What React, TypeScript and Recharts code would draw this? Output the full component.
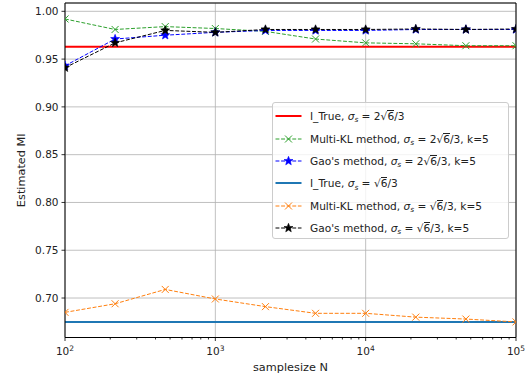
import React from "react";
import {
  CartesianGrid,
  Label,
  Legend,
  Line,
  LineChart,
  ReferenceLine,
  XAxis,
  YAxis,
} from "recharts";

const FONT = "DejaVu Sans";

// sample sizes (log-spaced, 10^2 .. 10^5)
const N_VALUES = [100, 215.4, 464.2, 1000, 2154.4, 4641.6, 10000, 21544, 46416, 100000];

// sigma_s = 2*sqrt(6)/3
const I_TRUE_WIDE = 0.963;
const MULTI_KL_WIDE = [0.992, 0.981, 0.984, 0.982, 0.979, 0.971, 0.967, 0.966, 0.964, 0.964];
const GAO_WIDE = [0.943, 0.971, 0.975, 0.978, 0.980, 0.980, 0.980, 0.981, 0.981, 0.981];

// sigma_s = sqrt(6)/3
const I_TRUE_NARROW = 0.675;
const MULTI_KL_NARROW = [0.685, 0.694, 0.709, 0.699, 0.691, 0.684, 0.684, 0.680, 0.678, 0.675];
const GAO_NARROW = [0.941, 0.967, 0.980, 0.978, 0.981, 0.981, 0.981, 0.9815, 0.981, 0.9815];

const DECADES = [100, 1000, 10000, 100000];
const MINOR_TICKS = [
  200, 300, 400, 500, 600, 700, 800, 900,
  2000, 3000, 4000, 5000, 6000, 7000, 8000, 9000,
  20000, 30000, 40000, 50000, 60000, 70000, 80000, 90000,
];
const Y_TICKS = [0.7, 0.75, 0.8, 0.85, 0.9, 0.95, 1.0];
const Y_MIN = 0.6587;
const Y_MAX = 1.0087;

const rows = N_VALUES.map((n, i) => ({
  n,
  mklWide: MULTI_KL_WIDE[i],
  gaoWide: GAO_WIDE[i],
  mklNarrow: MULTI_KL_NARROW[i],
  gaoNarrow: GAO_NARROW[i],
}));

const DASH = "3.9 1.7";

function XMark(props: any) {
  const { cx, cy, color } = props;
  if (cx == null || cy == null) return null;
  const r = 3.5;
  return (
    <g stroke={color} strokeWidth={1}>
      <line x1={cx - r} y1={cy - r} x2={cx + r} y2={cy + r} />
      <line x1={cx - r} y1={cy + r} x2={cx + r} y2={cy - r} />
    </g>
  );
}

function StarMark(props: any) {
  const { cx, cy, color } = props;
  if (cx == null || cy == null) return null;
  const pts: string[] = [];
  for (let k = 0; k < 10; k++) {
    const r = k % 2 === 0 ? 4.7 : 2.0;
    const a = -Math.PI / 2 + (k * Math.PI) / 5;
    pts.push(`${cx + r * Math.cos(a)},${cy + r * Math.sin(a)}`);
  }
  return <polygon points={pts.join(" ")} fill={color} stroke={color} strokeWidth={0.6} />;
}

function XTick(props: any) {
  const { x, y, payload } = props;
  const major = DECADES.includes(payload.value);
  return (
    <g>
      <line x1={x} x2={x} y1={y} y2={y + (major ? 3.5 : 2)} stroke="#000" strokeWidth={0.8} />
      {major && (
        <text x={x} y={y + 17.5} textAnchor="middle" fontSize={10.5} fontFamily={FONT} fill="#222">
          <tspan>10</tspan>
          <tspan dy={-4.5} fontSize={7.5}>
            {Math.round(Math.log10(payload.value))}
          </tspan>
        </text>
      )}
    </g>
  );
}

function YAxisLabel(props: any) {
  const { viewBox } = props;
  const cy = viewBox.y + viewBox.height / 2;
  return (
    <text
      x={21.5}
      y={cy}
      transform={`rotate(-90 21.5 ${cy})`}
      textAnchor="middle"
      dominantBaseline="central"
      fontSize={11.3}
      fontFamily={FONT}
      fill="#222"
    >
      Estimated MI
    </text>
  );
}

const Sigma = () => (
  <>
    <i>σ</i>
    <span style={{ fontSize: "0.7em", fontStyle: "italic", position: "relative", top: "0.3em" }}>s</span>
  </>
);

const Sqrt6 = () => (
  <>
    √<span style={{ borderTop: "1px solid #222", lineHeight: "1em", display: "inline-block", paddingTop: 0 }}>6</span>
  </>
);

type Entry = { color: string; dashed: boolean; mark: "x" | "star" | null; width: number; label: React.ReactNode };

const LEGEND_ENTRIES: Entry[] = [
  { color: "#ff0000", dashed: false, mark: null, width: 2, label: <>I_True, <Sigma /> = 2<Sqrt6 />/3</> },
  { color: "#2ca02c", dashed: true, mark: "x", width: 1, label: <>Multi-KL method, <Sigma /> = 2<Sqrt6 />/3, k=5</> },
  { color: "#0000ff", dashed: true, mark: "star", width: 1, label: <>Gao's method, <Sigma /> = 2<Sqrt6 />/3, k=5</> },
  { color: "#1f77b4", dashed: false, mark: null, width: 2, label: <>I_True, <Sigma /> = <Sqrt6 />/3</> },
  { color: "#ff7f0e", dashed: true, mark: "x", width: 1, label: <>Multi-KL method, <Sigma /> = <Sqrt6 />/3, k=5</> },
  { color: "#000000", dashed: true, mark: "star", width: 1, label: <>Gao's method, <Sigma /> = <Sqrt6 />/3, k=5</> },
];

function LegendBox() {
  return (
    <div
      style={{
        position: "relative",
        width: 237,
        height: 137,
        boxSizing: "border-box",
        border: "1px solid #cccccc",
        borderRadius: 3,
        background: "rgba(255,255,255,0.8)",
        fontFamily: FONT,
        fontSize: 10.6,
        color: "#222",
      }}
    >
      {LEGEND_ENTRIES.map((e, i) => (
        <div
          key={i}
          style={{
            position: "absolute",
            left: 2,
            top: 2 + i * 22.4,
            height: 22.4,
            display: "flex",
            alignItems: "center",
            whiteSpace: "nowrap",
          }}
        >
          <svg width={27} height={12} style={{ marginRight: 8, flex: "none" }}>
            <line
              x1={0.5}
              x2={26.5}
              y1={6}
              y2={6}
              stroke={e.color}
              strokeWidth={e.width}
              strokeDasharray={e.dashed ? DASH : undefined}
            />
            {e.mark === "x" && <XMark cx={13.5} cy={6} color={e.color} />}
            {e.mark === "star" && <StarMark cx={13.5} cy={6} color={e.color} />}
          </svg>
          <span>{e.label}</span>
        </div>
      ))}
    </div>
  );
}

export default function App() {
  return (
    <div style={{ position: "absolute", left: 0, top: 0, width: 531, height: 381, background: "#fff" }}>
      <LineChart width={531} height={381} data={rows} margin={{ top: 3, right: 15, left: 0, bottom: 0 }}>
        <CartesianGrid vertical={false} stroke="#b0b0b0" strokeWidth={0.8} />
        {DECADES.map((d) => (
          <ReferenceLine key={d} x={d} stroke="#b0b0b0" strokeWidth={0.8} />
        ))}
        <XAxis
          dataKey="n"
          type="number"
          scale="log"
          domain={[100, 100000]}
          allowDataOverflow
          ticks={[...DECADES, ...MINOR_TICKS]}
          interval={0}
          tickLine={false}
          tickSize={0}
          tickMargin={0}
          tick={<XTick />}
          axisLine={{ stroke: "#000", strokeWidth: 1 }}
          height={43.5}
        >
          <Label
            value="samplesize N"
            position="insideBottom"
            offset={10}
            style={{ fontSize: 11.3, fontFamily: FONT, fill: "#222" }}
          />
        </XAxis>
        <YAxis
          type="number"
          domain={[Y_MIN, Y_MAX]}
          allowDataOverflow
          ticks={Y_TICKS}
          interval={0}
          tickFormatter={(v: number) => v.toFixed(2)}
          tickSize={3.5}
          tickMargin={3}
          tick={{ fontSize: 10.5, fontFamily: FONT, fill: "#222" }}
          tickLine={{ stroke: "#000", strokeWidth: 0.8 }}
          axisLine={{ stroke: "#000", strokeWidth: 1 }}
          width={65}
        >
          <Label content={<YAxisLabel />} />
        </YAxis>

        <ReferenceLine y={I_TRUE_WIDE} stroke="#ff0000" strokeWidth={2} />
        <Line
          dataKey="mklWide"
          stroke="#2ca02c"
          strokeWidth={1}
          strokeDasharray={DASH}
          dot={<XMark color="#2ca02c" />}
          activeDot={false}
          isAnimationActive={false}
        />
        <Line
          dataKey="gaoWide"
          stroke="#0000ff"
          strokeWidth={1}
          strokeDasharray={DASH}
          dot={<StarMark color="#0000ff" />}
          activeDot={false}
          isAnimationActive={false}
        />
        <ReferenceLine y={I_TRUE_NARROW} stroke="#1f77b4" strokeWidth={2} />
        <Line
          dataKey="mklNarrow"
          stroke="#ff7f0e"
          strokeWidth={1}
          strokeDasharray={DASH}
          dot={<XMark color="#ff7f0e" />}
          activeDot={false}
          isAnimationActive={false}
        />
        <Line
          dataKey="gaoNarrow"
          stroke="#000000"
          strokeWidth={1}
          strokeDasharray={DASH}
          dot={<StarMark color="#000000" />}
          activeDot={false}
          isAnimationActive={false}
        />

        <ReferenceLine x={100000} stroke="#000" strokeWidth={1} />
        <ReferenceLine y={Y_MAX} stroke="#000" strokeWidth={1} />

        <Legend
          layout="vertical"
          align="center"
          verticalAlign="middle"
          content={() => <LegendBox />}
          wrapperStyle={{ position: "absolute", left: 272, top: 102, width: 237, height: 137 }}
        />
      </LineChart>
    </div>
  );
}
